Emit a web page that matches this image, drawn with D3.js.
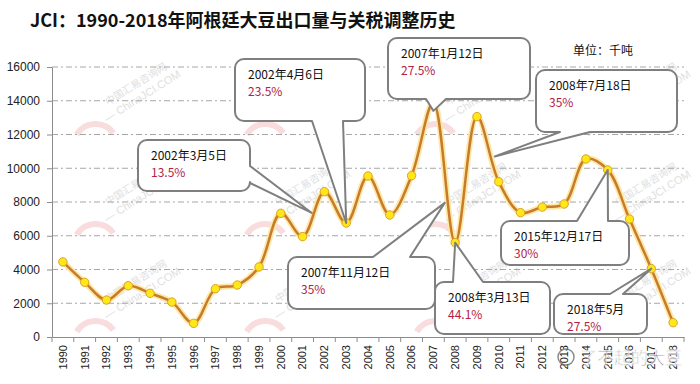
<!DOCTYPE html>
<html>
<head>
<meta charset="utf-8">
<script src="https://cdn.jsdelivr.net/npm/d3@7"></script>
<style>
  body { margin: 0; background: #fff; }
  svg { display: block; font-family: "Liberation Sans", Arial, sans-serif; }
</style>
</head>
<body>
<svg id="chart" width="700" height="384"></svg>
<script>
// 阿根廷大豆出口量 (千吨)
const years = ["1990","1991","1992","1993","1994","1995","1996","1997","1998","1999",
               "2000","2001","2002","2003","2004","2005","2006","2007","2008","2009",
               "2010","2011","2012","2013","2014","2015","2016","2017","2018"];
const exportsKt = [4450, 3240, 2190, 3040, 2590, 2070, 810, 2860, 3080, 4150,
                   7330, 5950, 8610, 6755, 9540, 7230, 9560, 13900, 5590, 13060,
                   9200, 7370, 7700, 7880, 10550, 9900, 6990, 4050, 850];
const yTicks = [0, 2000, 4000, 6000, 8000, 10000, 12000, 14000, 16000];

// 关税调整
const noteDates = ["2002年3月5日", "2002年4月6日", "2007年1月12日", "2008年7月18日",
                   "2007年11月12日", "2008年3月13日", "2015年12月17日", "2018年5月"];
const noteRates = ["13.5%", "23.5%", "27.5%", "35%", "35%", "44.1%", "30%", "27.5%"];
// where each pointer ends (year, value); null value = on the data point
const noteTipYear = [2001.42, 2003, 2007, 2009.82, 2007.52, 2008, 2015, 2017];
const noteTipValue = [7350, null, 13400, 10700, 7950, null, null, null];

// callout layout: box [x0, y0, x1, y1], side of the pointer, pointer base
const noteLayout = [
  {box: [138, 140, 250, 191], side: "right", base: [166, 183]},
  {box: [235, 59, 365, 121], side: "bottom", base: [312, 343]},
  {box: [388, 38, 530, 99], side: "bottom", base: [426, 446]},
  {box: [536, 70, 677, 132], side: "bottom", base: [560, 590]},
  {box: [288, 257, 435, 309], side: "top", base: [373, 410]},
  {box: [435, 282, 550, 334], side: "top", base: [453, 483]},
  {box: [501, 221, 629, 265], side: "top", base: [577, 608]},
  {box: [554, 294, 647, 334], side: "top", base: [610, 623]}
];

const margin = {left: 52, right: 16, top: 67, bottom: 47};
const width = 700, height = 384;

const svg = d3.select("#chart");

const xScale = d3.scaleBand()
  .domain(years)
  .range([margin.left, width - margin.right])
  .padding(0);

const yScale = d3.scaleLinear()
  .domain([0, 16000])
  .range([height - margin.bottom, margin.top]);

const xPos = yr => {
  const fl = Math.floor(yr);
  return xScale(String(fl)) + xScale.bandwidth() / 2 + (yr - fl) * xScale.step();
};

// watermark (faint)
const wm = svg.append("g").attr("id", "watermark");
const wmCols = [125, 295, 465, 635];
const wmRows = [95, 195, 292];
wmRows.forEach(cy => wmCols.forEach(cx => {
  const g = wm.append("g").attr("transform", `translate(${cx},${cy}) rotate(-32)`);
  g.append("path")
    .attr("d", "M-62,8 A22,22 0 0 1 -30,26")
    .attr("fill", "none")
    .attr("stroke", "#f9dcde")
    .attr("stroke-width", 6);
  g.append("text")
    .attr("x", -20).attr("y", 0)
    .style("font", "10px 'Noto Sans CJK SC'")
    .attr("fill", "#e0e0e0")
    .text("中国汇易咨询网");
  g.append("text")
    .attr("x", -30).attr("y", 14)
    .style("font", "11px 'Liberation Sans'")
    .attr("fill", "#e0e0e0")
    .text("— ChinaJCI.COM");
}));

// grid lines
svg.append("g")
  .selectAll("line")
  .data(yTicks.filter(d => d > 0))
  .join("line")
  .attr("x1", margin.left)
  .attr("x2", width - margin.right)
  .attr("y1", d => yScale(d))
  .attr("y2", d => yScale(d))
  .attr("stroke", "#a6a6a6")
  .attr("stroke-width", 1)
  .attr("stroke-dasharray", "6,3,2,3");

// y axis
const yAxis = svg.append("g")
  .attr("transform", `translate(${margin.left},0)`)
  .call(d3.axisLeft(yScale).tickValues(yTicks).tickSize(5).tickSizeOuter(0).tickFormat(d3.format("d")));
yAxis.select(".domain").attr("stroke", "#8c8c8c");
yAxis.selectAll(".tick line").attr("stroke", "#8c8c8c");
yAxis.selectAll("text")
  .attr("x", -12)
  .attr("fill", "#222")
  .style("font", "12px 'Liberation Sans'");

// x axis
const xAxis = svg.append("g")
  .attr("transform", `translate(0,${height - margin.bottom})`)
  .call(d3.axisBottom(xScale).tickSize(0).tickSizeOuter(0));
xAxis.select(".domain").attr("stroke", "#8c8c8c");
xAxis.selectAll("text")
  .attr("transform", "rotate(-90)")
  .attr("text-anchor", "end")
  .attr("x", -8)
  .attr("y", 0)
  .attr("dy", "0.35em")
  .attr("fill", "#222")
  .style("font", "11px 'Liberation Sans'");
xAxis.selectAll(".edge")
  .data(years.concat(["end"]))
  .join("line")
  .attr("class", "edge")
  .attr("x1", d => d == "end" ? width - margin.right : xScale(d))
  .attr("x2", d => d == "end" ? width - margin.right : xScale(d))
  .attr("y1", 0)
  .attr("y2", 5)
  .attr("stroke", "#8c8c8c");

// line
const line = d3.line()
  .x((d, i) => xScale(years[i]) + xScale.bandwidth() / 2)
  .y(d => yScale(d))
  .curve(d3.curveCatmullRom.alpha(0.5));

svg.append("path")
  .datum(exportsKt)
  .attr("d", line)
  .attr("fill", "none")
  .attr("stroke", "#fde8a6")
  .attr("stroke-width", 6)
  .attr("stroke-linejoin", "round");

svg.append("path")
  .datum(exportsKt)
  .attr("d", line)
  .attr("fill", "none")
  .attr("stroke", "#c97b2c")
  .attr("stroke-width", 2.5)
  .attr("stroke-linejoin", "round");

svg.append("g")
  .selectAll("circle")
  .data(exportsKt)
  .join("circle")
  .attr("cx", (d, i) => xScale(years[i]) + xScale.bandwidth() / 2)
  .attr("cy", d => yScale(d))
  .attr("r", 4.2)
  .attr("fill", "#ffe81a")
  .attr("stroke", "#e0a020")
  .attr("stroke-width", 1);

// callouts
function calloutPath(b, side, base, tip) {
  const r = 9;
  const [x0, y0, x1, y1] = b;
  const p = d3.path();
  p.moveTo(x0 + r, y0);
  if (side == "top") { p.lineTo(base[0], y0); p.lineTo(tip[0], tip[1]); p.lineTo(base[1], y0); }
  p.lineTo(x1 - r, y0);
  p.arcTo(x1, y0, x1, y0 + r, r);
  if (side == "right") { p.lineTo(x1, base[0]); p.lineTo(tip[0], tip[1]); p.lineTo(x1, base[1]); }
  p.lineTo(x1, y1 - r);
  p.arcTo(x1, y1, x1 - r, y1, r);
  if (side == "bottom") { p.lineTo(base[1], y1); p.lineTo(tip[0], tip[1]); p.lineTo(base[0], y1); }
  p.lineTo(x0 + r, y1);
  p.arcTo(x0, y1, x0, y1 - r, r);
  p.lineTo(x0, y0 + r);
  p.arcTo(x0, y0, x0 + r, y0, r);
  p.closePath();
  return p.toString();
}

const notes = svg.append("g")
  .selectAll("g")
  .data(noteDates)
  .join("g");

notes.append("path")
  .attr("d", (d, i) => {
    const yr = noteTipYear[i];
    const v = noteTipValue[i] == null ? exportsKt[years.indexOf(String(yr))] : noteTipValue[i];
    const tip = [xPos(yr), yScale(v)];
    return calloutPath(noteLayout[i].box, noteLayout[i].side, noteLayout[i].base, tip);
  })
  .attr("fill", "#fff")
  .attr("stroke", "#7f7f7f")
  .attr("stroke-width", 2)
  .attr("stroke-linejoin", "round");

notes.append("text")
  .attr("x", (d, i) => noteLayout[i].box[0] + 13)
  .attr("y", (d, i) => noteLayout[i].box[1] + 20)
  .attr("fill", "#111")
  .style("font", "12px 'Noto Sans CJK SC'")
  .text(d => d);

notes.append("text")
  .attr("x", (d, i) => noteLayout[i].box[0] + 13)
  .attr("y", (d, i) => noteLayout[i].box[1] + 37)
  .attr("fill", "#b5213f")
  .style("font", "12px 'Noto Sans CJK SC'")
  .text((d, i) => noteRates[i]);

// title and unit
svg.append("text")
  .text("JCI：1990-2018年阿根廷大豆出口量与关税调整历史")
  .attr("x", 30)
  .attr("y", 27)
  .attr("fill", "#111")
  .style("font", "bold 18px 'Noto Sans CJK SC'");

svg.append("text")
  .text("单位：千吨")
  .attr("x", 573)
  .attr("y", 55)
  .attr("fill", "#111")
  .style("font", "12px 'Noto Sans CJK SC'");

// channel mark bottom right
const mark = svg.append("g").attr("opacity", 0.75);
mark.append("circle")
  .attr("cx", 566).attr("cy", 357).attr("r", 8)
  .attr("fill", "none").attr("stroke", "#666").attr("stroke-width", 1.5);
mark.append("text")
  .text("了不起的大豆")
  .attr("x", 580)
  .attr("y", 364)
  .attr("fill", "#555")
  .attr("stroke", "#fff")
  .attr("stroke-width", 0.8)
  .style("font", "17px 'Noto Sans CJK SC'");
</script>
</body>
</html>
